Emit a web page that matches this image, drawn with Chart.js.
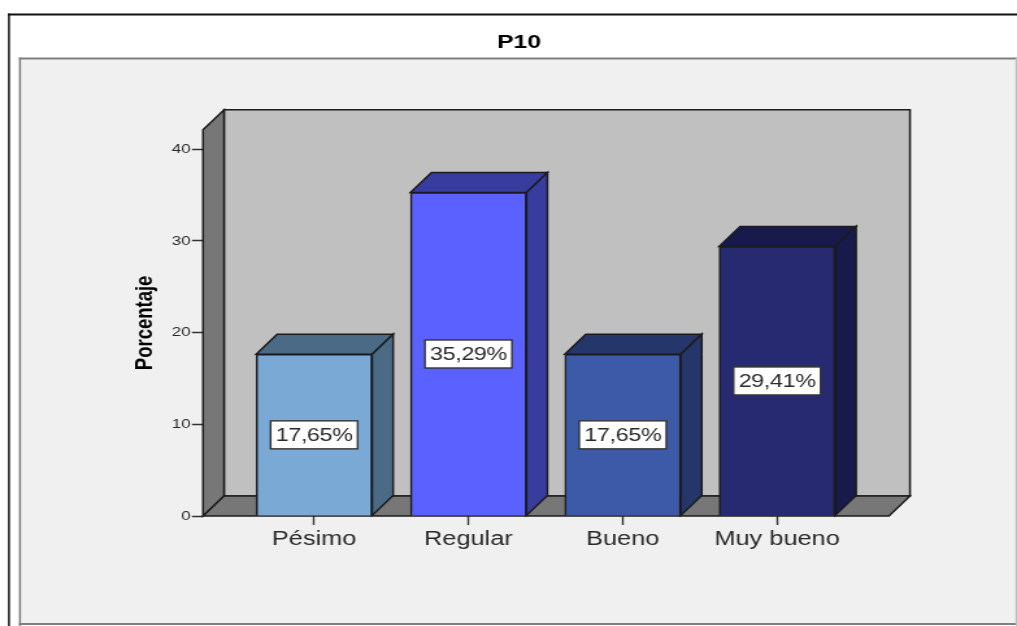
<!DOCTYPE html>
<html lang="es">
<head>
<meta charset="utf-8">
<title>P10</title>
<style>
  html, body { margin: 0; padding: 0; background: #fff; overflow: hidden; }
  /* The drawing is laid out narrow and widened to the page, which gives the broad lettering. */
  canvas { display: block; transform-origin: 0 0; transform: scaleX(1.2989); }
</style>
<script src="https://cdn.jsdelivr.net/npm/chart.js@4"></script>
</head>
<body>
<canvas id="chart" width="783" height="626"></canvas>
<script>
const chartTitle = 'P10';
const axisTitle = 'Porcentaje';
const categories = ['Pésimo', 'Regular', 'Bueno', 'Muy bueno'];
const percentages = [17.65, 35.29, 17.65, 29.41];
const frontColors = ['#7ba9d6', '#5b61ff', '#3d5aa8', '#272a70'];
const shadeColors = ['#4a6a85', '#383c9f', '#24366a', '#171a4a'];

const WIDEN = 1.2989;
const FONT = '"Liberation Sans", Arial, sans-serif';
const DEPTH_X = 21 / WIDEN;
const DEPTH_Y = 20;
const INK = '#1c1c1c';

function polygon(ctx, points, fill, stroke, width) {
  ctx.beginPath();
  points.forEach(([x, y], i) => (i ? ctx.lineTo(x, y) : ctx.moveTo(x, y)));
  ctx.closePath();
  ctx.fillStyle = fill;
  ctx.fill();
  ctx.strokeStyle = stroke;
  ctx.lineWidth = width;
  ctx.lineJoin = 'miter';
  ctx.stroke();
}

// White sheet with its black edge and the grey panel behind the plot.
const framePlugin = {
  id: 'frame',
  afterLayout(chart) {
    chart.titleBlock.left += 7.4;
    chart.titleBlock.right += 7.4;
  },
  beforeDraw(chart) {
    const ctx = chart.ctx;
    const w = chart.width;
    const h = chart.height;
    const sheetX = 8 / WIDEN;
    const panelX = 19 / WIDEN;
    ctx.save();
    ctx.fillStyle = '#ffffff';
    ctx.fillRect(0, 0, w, h);
    ctx.fillStyle = '#111111';
    ctx.fillRect(sheetX, 13.5, w - sheetX, 2);
    ctx.fillRect(sheetX, 13.5, 1.5, h - 13.5);
    ctx.fillStyle = '#f0f0f0';
    ctx.fillRect(panelX, 58, w - panelX - 1, h - 59);
    ctx.fillStyle = '#7e7e7e';
    ctx.fillRect(panelX, 57.5, w - panelX, 2);
    ctx.fillRect(panelX, 57.5, 1.5, h - 57.5);
    ctx.fillRect(panelX, h - 3, w - panelX, 2);
    ctx.fillStyle = '#bdbdbd';
    ctx.fillRect(w - 1.2, 58, 1.2, h - 58);
    ctx.restore();
  }
};

// Side wall, back wall and floor of the box, then the top and side of every bar.
const boxPlugin = {
  id: 'box3d',
  beforeDatasetsDraw(chart) {
    const ctx = chart.ctx;
    const { left, right, top, bottom } = chart.chartArea;
    ctx.save();
    polygon(ctx, [[left + DEPTH_X, top - DEPTH_Y], [right + DEPTH_X, top - DEPTH_Y], [right + DEPTH_X, bottom - DEPTH_Y], [left + DEPTH_X, bottom - DEPTH_Y]], '#c0c0c0', INK, 1.5);
    polygon(ctx, [[left, top], [left + DEPTH_X, top - DEPTH_Y], [left + DEPTH_X, bottom - DEPTH_Y], [left, bottom]], '#777777', INK, 1.5);
    polygon(ctx, [[left, bottom], [left + DEPTH_X, bottom - DEPTH_Y], [right + DEPTH_X, bottom - DEPTH_Y], [right, bottom]], '#777777', INK, 1.5);
    chart.getDatasetMeta(0).data.forEach((bar, i) => {
      const l = bar.x - bar.width / 2;
      const r = bar.x + bar.width / 2;
      const t = bar.y;
      const b = bar.base;
      polygon(ctx, [[l, t], [l + DEPTH_X, t - DEPTH_Y], [r + DEPTH_X, t - DEPTH_Y], [r, t]], shadeColors[i], INK, 1.5);
      polygon(ctx, [[r, t], [r + DEPTH_X, t - DEPTH_Y], [r + DEPTH_X, b - DEPTH_Y], [r, b]], shadeColors[i], INK, 1.5);
    });
    ctx.restore();
  },
  // Percentage tag centred on the front face of each bar.
  afterDatasetsDraw(chart) {
    const ctx = chart.ctx;
    const tagW = 87 / WIDEN;
    ctx.save();
    ctx.font = '18px ' + FONT;
    ctx.letterSpacing = '-0.3px';
    ctx.textAlign = 'center';
    ctx.textBaseline = 'middle';
    chart.getDatasetMeta(0).data.forEach((bar, i) => {
      const cy = (bar.y + bar.base) / 2;
      const text = percentages[i].toFixed(2).replace('.', ',') + '%';
      ctx.fillStyle = '#ffffff';
      ctx.strokeStyle = '#333333';
      ctx.lineWidth = 1.4;
      ctx.fillRect(bar.x - tagW / 2, cy - 14, tagW, 28);
      ctx.strokeRect(bar.x - tagW / 2, cy - 14, tagW, 28);
      ctx.fillStyle = '#2a2a2a';
      ctx.fillText(text, bar.x, cy + 1);
    });
    ctx.restore();
  }
};

new Chart(document.getElementById('chart'), {
  type: 'bar',
  data: {
    datasets: [{
      data: percentages.map((value, i) => ({ x: i, y: value })),
      backgroundColor: frontColors,
      borderColor: INK,
      borderWidth: 1.6,
      barThickness: 116 / WIDEN
    }]
  },
  plugins: [framePlugin, boxPlugin],
  options: {
    responsive: false,
    animation: false,
    devicePixelRatio: 1,
    layout: { padding: { left: 100, right: 98.6, top: 0, bottom: 0 } },
    plugins: {
      legend: { display: false },
      tooltip: { enabled: false },
      title: {
        display: true,
        text: chartTitle,
        color: '#000000',
        font: { family: FONT, size: 19, weight: 'bold' },
        padding: { top: 31, bottom: 76 }
      }
    },
    scales: {
      x: {
        type: 'linear',
        offset: false,
        min: -0.72,
        max: 3.725,
        afterBuildTicks(scale) { scale.ticks = categories.map((_, i) => ({ value: i })); },
        afterFit(scale) { scale.height = 110; },
        grid: { offset: false, drawOnChartArea: false, drawTicks: true, tickLength: 9, tickColor: '#333333', tickWidth: 1.4 },
        border: { display: false },
        ticks: {
          autoSkip: false,
          maxRotation: 0,
          padding: 3,
          color: '#2a2a2a',
          font: { family: FONT, size: 19.5 },
          callback: value => categories[value]
        }
      },
      y: {
        min: 0,
        max: 42.13,
        afterFit(scale) { scale.width = 56.3; },
        grid: { drawOnChartArea: false, drawTicks: true, tickLength: 8.5, tickColor: '#333333', tickWidth: 1.5 },
        border: { display: false },
        title: {
          display: true,
          text: axisTitle,
          color: '#000000',
          font: { family: FONT, size: 18.5, weight: 'bold' },
          padding: { top: 0.5, bottom: 0 }
        },
        ticks: {
          stepSize: 10,
          includeBounds: false,
          padding: 1,
          color: '#2a2a2a',
          font: { family: FONT, size: 13 }
        }
      }
    }
  }
});
</script>
</body>
</html>
